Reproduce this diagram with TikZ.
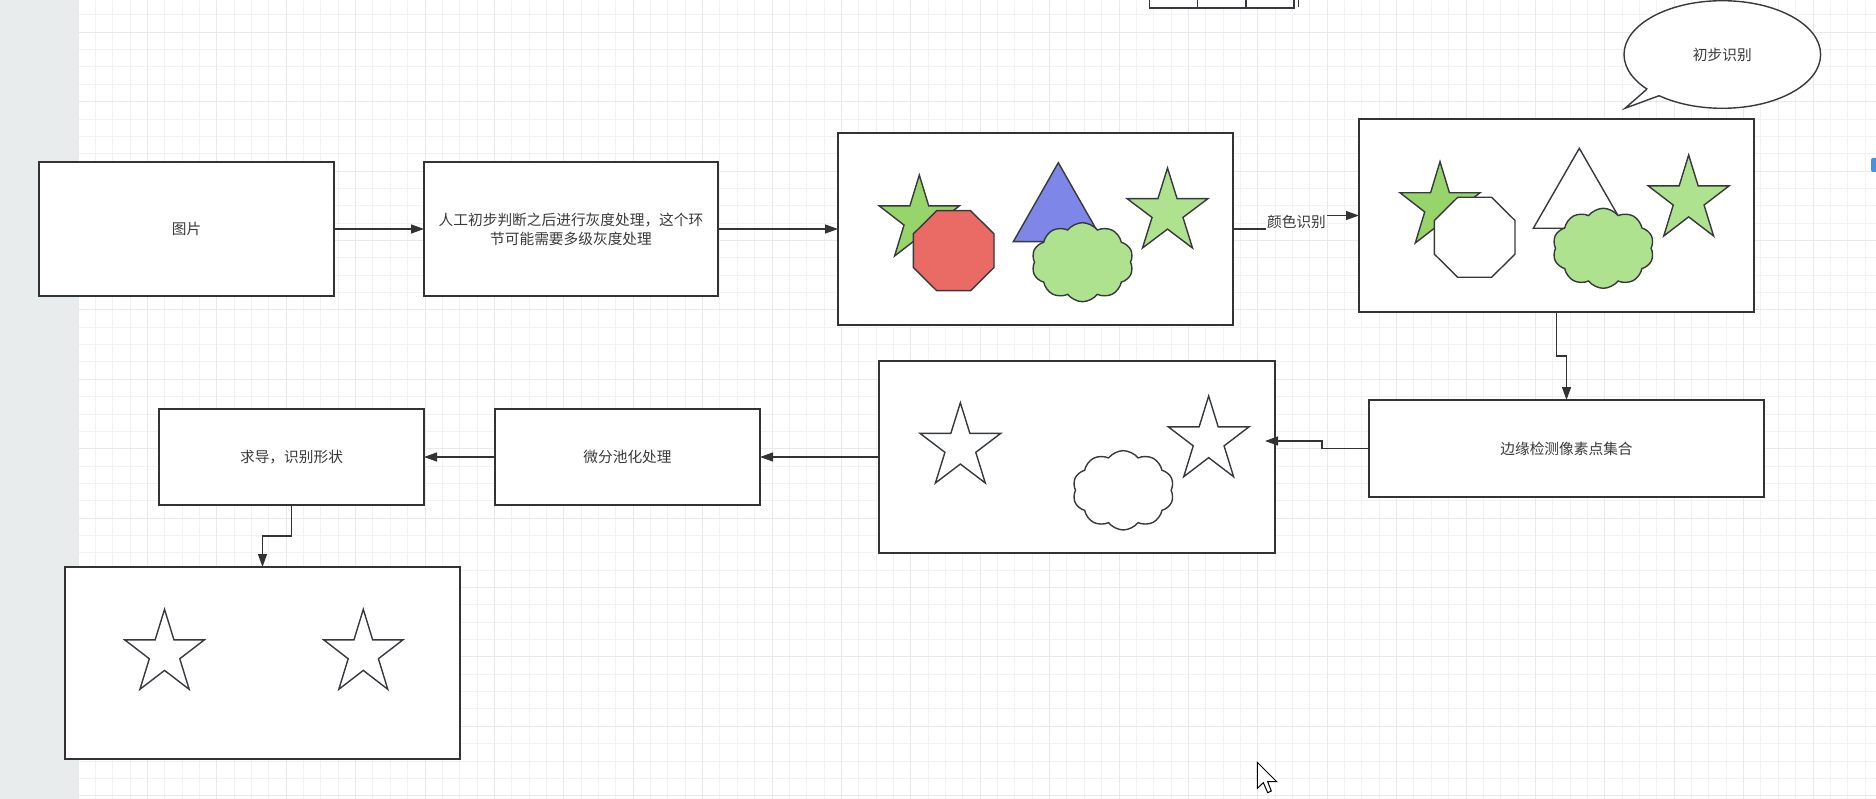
\documentclass[tikz,border=0pt]{standalone}
\usepackage{fontspec}
\setmainfont{Noto Sans CJK SC}
\usetikzlibrary{arrows.meta,shapes.symbols,shapes.geometric}
\definecolor{ink}{HTML}{333333}
\definecolor{shapeink}{HTML}{36393D}
\definecolor{textc}{HTML}{3A3A3A}
\definecolor{gminor}{HTML}{F2F2F2}
\definecolor{gmajor}{HTML}{E9E9E9}
\definecolor{sidebar}{HTML}{E8ECED}
\definecolor{dgreen}{HTML}{97D56B}
\definecolor{lgreen}{HTML}{AEE28E}
\definecolor{redoct}{HTML}{EA6B66}
\definecolor{bluetri}{HTML}{7E87E8}
\definecolor{bluemark}{HTML}{4A90E2}
\newcommand\mystar[5]{\draw[shp,fill=#5] ({#1+0.5*#3},{#2}) -- ({#1+0.618*#3},{#2+0.382*#4}) -- ({#1+#3},{#2+0.382*#4}) -- ({#1+0.691*#3},{#2+0.618*#4}) -- ({#1+0.809*#3},{#2+#4}) -- ({#1+0.5*#3},{#2+0.764*#4}) -- ({#1+0.191*#3},{#2+#4}) -- ({#1+0.309*#3},{#2+0.618*#4}) -- ({#1},{#2+0.382*#4}) -- ({#1+0.382*#3},{#2+0.382*#4}) -- cycle;}
\newcommand\myoct[5]{\draw[shp,fill=#5] ({#1+0.29*#3},{#2}) -- ({#1+0.71*#3},{#2}) -- ({#1+#3},{#2+0.29*#4}) -- ({#1+#3},{#2+0.71*#4}) -- ({#1+0.71*#3},{#2+#4}) -- ({#1+0.29*#3},{#2+#4}) -- ({#1},{#2+0.71*#4}) -- ({#1},{#2+0.29*#4}) -- cycle;}
\tikzset{
  gridminor/.style={draw=gminor, line width=1pt},
  gridmajor/.style={draw=gmajor, line width=1pt},
  txt/.style={font=\fontsize{14.7pt}{19pt}\selectfont, text=textc},
  box/.style={draw=ink, line width=1.6pt, fill=white, rectangle, inner sep=0pt, outer sep=0pt, txt, align=center},
  shp/.style={draw=shapeink, line width=1.4pt, line join=miter},
  arr/.style={draw=ink, line width=1.3pt, -{Triangle[length=13pt,width=9pt]}},
  lbl/.style={fill=white, inner sep=1pt, txt},
  cloudshape/.style={cloud, cloud puffs=10, cloud puff arc=105, aspect=1.28, shp, inner sep=0pt},
}
\begin{document}
\begin{tikzpicture}[x=1pt,y=-1pt]
\useasboundingbox (0,0) rectangle (1876,799);
\fill[white] (0,0) rectangle (1876,799);
% grid
\foreach \i in {0,...,103}{\pgfmathsetmacro\gx{78+\i*17.35}\draw[gridminor] (\gx,0) -- (\gx,799);}
\foreach \j in {0,...,46}{\pgfmathsetmacro\gy{-2.4+\j*17.35}\draw[gridminor] (78,\gy) -- (1876,\gy);}
\foreach \i in {0,...,25}{\pgfmathsetmacro\gx{78+\i*69.4}\draw[gridmajor] (\gx,0) -- (\gx,799);}
\foreach \j in {0,...,11}{\pgfmathsetmacro\gy{32.3+\j*69.4}\draw[gridmajor] (78,\gy) -- (1876,\gy);}
\fill[sidebar] (0,0) rectangle (78,799);

% partial table at the top
\draw[shp, fill=white] (1149.3,-10) rectangle (1294,8);
\draw[shp] (1197.3,-10) -- (1197.3,8) (1246,-10) -- (1246,8);
\draw[shapeink, line width=1pt] (1298,-2) -- (1298,7);

% main boxes
\node[box, minimum width=295pt, minimum height=134pt] (A) at (186.5,229) {图片};
\node[box, minimum width=294pt, minimum height=134pt] (B) at (571,229) {人工初步判断之后进行灰度处理，这个环\\节可能需要多级灰度处理};
\node[box, minimum width=395pt, minimum height=192pt] (C) at (1035.5,229) {};
\node[box, minimum width=395pt, minimum height=193pt] (D) at (1556.5,215.5) {};
\node[box, minimum width=395pt, minimum height=97pt] (E) at (1566.5,448.5) {边缘检测像素点集合};
\node[box, minimum width=396pt, minimum height=192pt] (F) at (1077,457) {};
\node[box, minimum width=265pt, minimum height=96pt] (G) at (627.5,457) {微分池化处理};
\node[box, minimum width=265pt, minimum height=96pt] (H) at (291.5,457) {求导，识别形状};
\node[box, minimum width=395pt, minimum height=192pt] (I) at (262.5,663) {};

% callout bubble
\node[ellipse, draw=shapeink, line width=1.4pt, fill=white, minimum width=196.6pt, minimum height=107.6pt, inner sep=0pt, txt] (bub) at (1722.3,54.5) {初步识别};
\fill[white] (1647,89.1) -- (1625,108.3) -- (1659.1,95.7) -- (1660,88) -- cycle;
\draw[shp, line join=miter] (1647,89.1) -- (1625,108.3) -- (1659.1,95.7);

% shapes in C
\mystar{879.3}{175}{80}{81}{dgreen}
\myoct{913.3}{210.7}{80.7}{80}{redoct}
\draw[shp, fill=bluetri] (1058.3,162.7) -- (1103.3,241.7) -- (1013.3,241.7) -- cycle;
\node[cloudshape, fill=lgreen, minimum width=101.6pt, minimum height=79pt] (cl1) at (1082.5,262.2) {};
\mystar{1127}{168}{81}{80}{lgreen}

% shapes in D
\mystar{1400}{161.7}{80}{81.3}{dgreen}
\myoct{1434.3}{197.3}{80.7}{80}{white}
\draw[shp, fill=white] (1579.3,148.3) -- (1625.3,228.3) -- (1533.3,228.3) -- cycle;
\node[cloudshape, fill=lgreen, minimum width=101.3pt, minimum height=80pt] (cl2) at (1603.3,248.3) {};
\mystar{1648.3}{155}{80.7}{81}{lgreen}

% shapes in F
\mystar{920}{402.7}{80.7}{80.3}{white}
\node[cloudshape, fill=white, minimum width=101.3pt, minimum height=79.3pt] (cl3) at (1123.3,490.3) {};
\mystar{1168.3}{396}{80.7}{80.7}{white}

% shapes in I
\mystar{124.7}{609.3}{79.7}{80}{white}
\mystar{323.7}{609.3}{79.2}{80}{white}

% connectors
\coordinate (fin) at (1265,441);
\draw[arr] (A) -- (B);
\draw[arr] (B) -- (C);
\draw[arr] (C.east) -- (1296.5,229) -- node[lbl] (lab) {颜色识别} (1296.5,215.5) -- (D.west);
\draw[arr] (D.south) -- (1556.5,356) -- (1566.5,356) -- (E.north);
\draw[arr] (E.west) -- (1322,448.5) -- (1322,441) -- (fin);
\draw[arr] (F) -- (G);
\draw[arr] (G) -- (H);
\draw[arr] (H.south) -- (291.5,536) -- (262.5,536) -- (I.north);

% mouse cursor
\draw[fill=white, draw=black, line width=1pt, line join=miter] (1257.3,762.3) -- (1257.3,788.3) -- (1263.3,782.7) -- (1267.7,792.7) -- (1271.3,791) -- (1267.7,781.7) -- (1276.7,781.7) -- cycle;
% blue mark at right edge
\fill[bluemark, rounded corners=2pt] (1871,158) rectangle (1882,172);
\end{tikzpicture}
\end{document}
